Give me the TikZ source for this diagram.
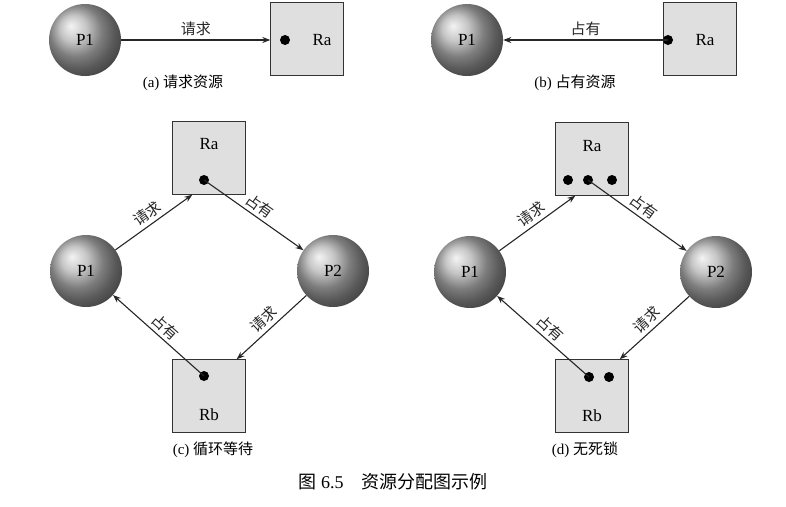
\documentclass[tikz,border=0pt]{standalone}
\usepackage{fontspec}
\setmainfont{Liberation Serif}
\newfontfamily\cjk{Noto Sans CJK SC}
\usetikzlibrary{positioning,arrows.meta}
\tikzset{
  proc/.style={circle,minimum size=72pt,inner sep=0pt,ball color=gray!60,font=\fontsize{17}{19}\selectfont},
  res/.style={draw=black!80,fill=gray!25,minimum size=73pt,inner sep=0pt},
  rname/.style={font=\fontsize{17}{19}\selectfont},
  tok/.style={circle,fill=black,minimum size=10pt,inner sep=0pt},
  arr/.style={-{Stealth[length=8pt,width=6pt]},line width=1.1pt,black!85},
  lbl/.style={font=\cjk\fontsize{15}{17}\selectfont,inner sep=1pt,outer sep=3pt},
  subcap/.style={font=\fontsize{15}{17}\selectfont}
}
\begin{document}
\begin{tikzpicture}[x=1pt,y=-1pt]
  \useasboundingbox (0,0) rectangle (786,506);
  % (a)
  \node[proc] (pa) at (85,40) {P1};
  \node[res] (raa) at (307,39) {};
  \node[tok] (ta) at (285,40) {};
  \node[rname] at (322,40) {Ra};
  \draw[arr] (pa) -- node[lbl,above] {请求} (raa.west |- pa);
  \node[subcap] at (183,83) {(a) {\cjk 请求资源}};
  % (b)
  \node[proc] (pb) at (467,40) {P1};
  \node[res] (rab) at (700,39) {};
  \node[tok] (tb) at (668,40) {};
  \node[rname] at (705,40) {Ra};
  \draw[arr] (tb.center) -- node[lbl,above] {占有} (pb);
  \node[subcap] at (575,83) {(b) {\cjk 占有资源}};
  % (c)
  \node[res] (rac) at (209,158) {};
  \node[rname] at (209,144) {Ra};
  \node[tok] (tc1) at (204,180) {};
  \node[res] (rbc) at (209,396) {};
  \node[rname] at (209,415) {Rb};
  \node[tok] (tc2) at (204,376) {};
  \node[proc] (p1c) at (86,271) {P1};
  \node[proc] (p2c) at (333,271) {P2};
  \draw[arr] (p1c) -- node[lbl,above,sloped] {请求} ([xshift=20pt]rac.south west);
  \draw[arr] (tc1.center) -- node[lbl,above,sloped] {占有} (p2c);
  \draw[arr] (p2c) -- node[lbl,above,sloped] {请求} ([xshift=-9pt]rbc.north east);
  \draw[arr] (tc2.center) -- node[lbl,above,sloped] {占有} (p1c);
  \node[subcap] at (213,450) {(c) {\cjk 循环等待}};
  % (d)
  \node[res] (rad) at (592,159) {};
  \node[rname] at (592,146) {Ra};
  \foreach \x/\n in {568/1,588/2,612/3}
    \node[tok] (td\n) at (\x,180) {};
  \node[res] (rbd) at (592,396) {};
  \node[rname] at (592,416) {Rb};
  \node[tok] (te1) at (589,377) {};
  \node[tok] (te2) at (609,377) {};
  \node[proc] (p1d) at (470,272) {P1};
  \node[proc] (p2d) at (716,272) {P2};
  \draw[arr] (p1d) -- node[lbl,above,sloped] {请求} ([xshift=20pt]rad.south west);
  \draw[arr] (td2.center) -- node[lbl,above,sloped] {占有} (p2d);
  \draw[arr] (p2d) -- node[lbl,above,sloped] {请求} ([xshift=-9pt]rbd.north east);
  \draw[arr] (te1.center) -- node[lbl,above,sloped] {占有} (p1d);
  \node[subcap] at (585,450) {(d) {\cjk 无死锁}};
  % figure caption
  \node[font=\fontsize{18}{20}\selectfont] (fig) at (393,482) {{\cjk 图} 6.5\quad{\cjk 资源分配图示例}};
\end{tikzpicture}
\end{document}
